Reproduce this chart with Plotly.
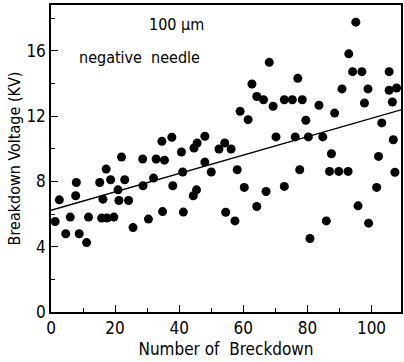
import plotly.graph_objects as go

# Measured breakdowns (number of breakdown, breakdown voltage in kV)
breakdown_no = [1.3, 2.6, 4.6, 6.0, 7.7, 7.9, 8.8, 11.1, 11.7, 15.2, 15.8, 16.2, 17.2, 17.5,
                18.6, 19.6, 20.9, 21.2, 22.0, 23.0, 24.2, 25.6, 28.6, 28.7, 30.4, 32.0, 32.8,
                34.6, 34.8, 35.4, 37.7, 38.0, 40.7, 41.1, 41.3, 44.4, 44.6, 45.4, 45.6, 48.0,
                48.0, 50.0, 52.4, 54.2, 54.5, 56.2, 57.4, 58.1, 59.0, 60.3, 61.5, 62.7, 64.2,
                64.2, 66.3, 67.1, 68.1, 69.3, 70.2, 72.8, 72.8, 75.3, 76.2, 77.0, 77.6, 78.4,
                79.5, 80.3, 80.8, 83.6, 84.8, 85.9, 86.9, 87.5, 88.5, 89.8, 90.8, 92.7, 92.9,
                94.1, 95.1, 95.8, 97.0, 97.8, 98.9, 99.1, 101.6, 102.2, 103.2, 105.5, 105.5,
                106.5, 106.8, 107.3, 107.8]
voltage_kv = [5.54, 6.87, 4.79, 5.81, 7.12, 7.93, 4.79, 4.25, 5.81, 7.93, 5.75, 6.91, 8.75, 5.75,
              8.10, 5.81, 7.48, 6.83, 9.49, 8.10, 6.83, 5.17, 9.37, 7.73, 5.69, 8.20, 9.37,
              10.45, 6.15, 9.30, 10.70, 7.73, 9.80, 8.57, 6.12, 7.12, 10.04, 7.48, 10.35, 10.76,
              9.18, 8.57, 9.98, 10.35, 6.11, 9.98, 5.58, 8.71, 12.29, 7.63, 11.78, 13.96, 13.20,
              6.46, 13.00, 7.38, 15.29, 12.60, 10.72, 13.00, 7.69, 13.00, 10.72, 14.31, 8.71, 13.00,
              11.74, 10.72, 4.50, 12.66, 10.72, 5.58, 8.61, 9.69, 12.18, 8.61, 13.66, 8.61, 15.81,
              14.72, 17.75, 6.50, 14.72, 12.80, 13.66, 5.44, 7.63, 9.53, 11.58, 14.72, 13.58,
              12.86, 10.55, 8.56, 13.72]

# Fitted trend line end points
trend_x = [0, 109.2]
trend_y = [6.23, 12.38]

x_ticks = [0, 20, 40, 60, 80, 100]
y_ticks = [0, 4, 8, 12, 16]

FONT = "Liberation Sans Narrow, DejaVu Sans Condensed, Arial Narrow, sans-serif"

fig = go.Figure()
fig.add_trace(go.Scatter(x=trend_x, y=trend_y, mode="lines",
                         line=dict(color="black", width=1.4), showlegend=False,
                         hoverinfo="skip"))
fig.add_trace(go.Scatter(x=breakdown_no, y=voltage_kv, mode="markers",
                         marker=dict(color="black", size=9, line=dict(width=0)),
                         showlegend=False))

fig.add_annotation(x=39.3, y=17.6, xref="x", yref="y", text="100 μm", showarrow=False,
                   font=dict(family=FONT, size=16, color="black"))
fig.add_annotation(x=27.7, y=15.6, xref="x", yref="y", text="negative  needle", showarrow=False,
                   font=dict(family=FONT, size=16, color="black"))

axis_common = dict(showgrid=False, zeroline=False, showline=True, linecolor="black",
                   linewidth=1.5, mirror=True, ticks="inside", tickcolor="black",
                   ticklen=7, tickwidth=1.3, automargin=False,
                   tickfont=dict(family=FONT, size=17, color="black"),
                   minor=dict(ticks="inside", ticklen=4, tickwidth=1.2, tickcolor="black"))

fig.update_xaxes(range=[0, 109.2], tickvals=x_ticks, ticktext=[str(v) for v in x_ticks],
                 minor_dtick=10, minor_tick0=0,
                 title=dict(text="Number of  Breckdown", standoff=6,
                            font=dict(family=FONT, size=17, color="black")),
                 **axis_common)
fig.update_yaxes(range=[0, 18.8], tickvals=y_ticks, ticktext=[str(v) for v in y_ticks],
                 minor_dtick=2, minor_tick0=0,
                 title=dict(text="Breakdown Voltage (KV)", standoff=2,
                            font=dict(family=FONT, size=16, color="black")),
                 **axis_common)

fig.update_layout(width=404, height=362, margin=dict(l=51, r=3, t=5, b=50),
                  paper_bgcolor="white", plot_bgcolor="white",
                  font=dict(family=FONT, color="black"))

fig.write_html("out.html", config={"displayModeBar": False},
               post_script="document.body.style.margin='0';")
